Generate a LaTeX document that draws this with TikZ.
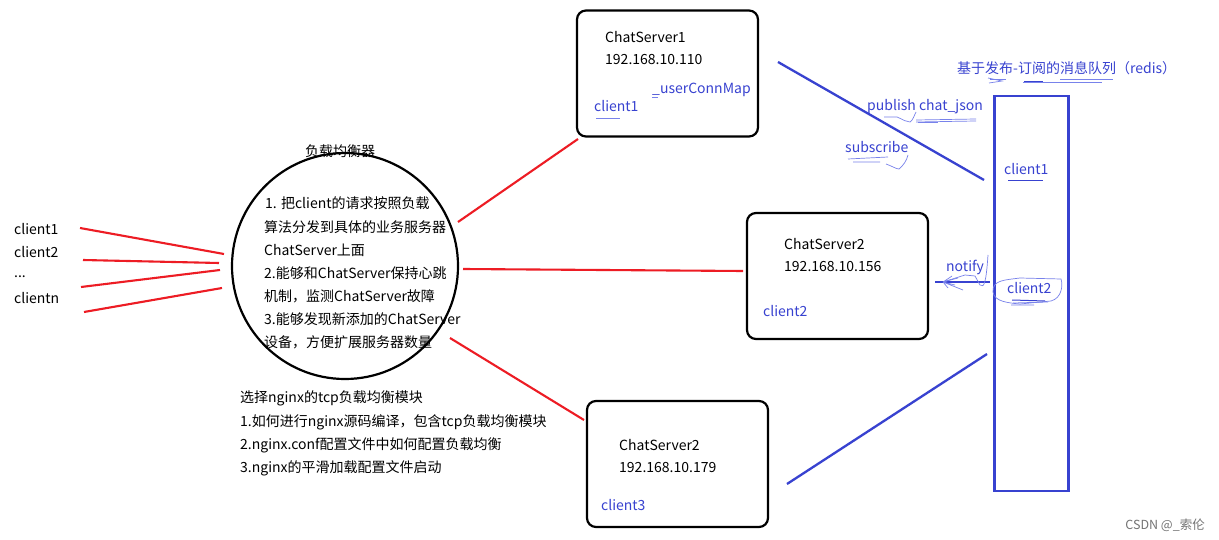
\documentclass[tikz,border=0pt]{standalone}
\usepackage{fontspec}
\setmainfont{Noto Sans CJK SC}
\definecolor{bl}{RGB}{56,66,208}
\definecolor{rd}{RGB}{237,28,36}
\definecolor{sk}{RGB}{120,130,235}
\tikzset{
 lbl/.style={anchor=west,inner sep=0pt,font=\fontsize{14}{16}\selectfont,text=black},
 blbl/.style={lbl,text=bl},
 srv/.style={draw=black,line width=2.2pt,rounded corners=9pt},
 redl/.style={draw=rd,line width=2.1pt},
 bluel/.style={draw=bl,line width=2.3pt},
 ink/.style={draw=sk,line width=.7pt},
 inkd/.style={draw=bl,line width=1pt}
}
\begin{document}
\begin{tikzpicture}[x=1pt,y=-1pt]
\useasboundingbox (0,0) rectangle (1219,540);
\fill[white] (0,0) rectangle (1219,540);
% servers
\node[srv,minimum width=181pt,minimum height=126pt,inner sep=0pt] (s1) at (667.5,73.5) {};
\node[srv,minimum width=181pt,minimum height=126pt,inner sep=0pt] (s2) at (837.5,276) {};
\node[srv,minimum width=181pt,minimum height=126pt,inner sep=0pt] (s3) at (677.5,464) {};
\node[draw=black,line width=2.2pt,circle,minimum size=226pt,inner sep=0pt] (lb) at (345,266) {};
\node[draw=bl,line width=2.4pt,minimum width=74pt,minimum height=395pt,inner sep=0pt] (mq) at (1031.5,293.5) {};
% client labels
\node[lbl] (c1) at (14,229) {client1};
\node[lbl] (c2) at (14,252) {client2};
\node[lbl] (c3) at (14,277) {...};
\node[lbl] (c4) at (14,298) {clientn};
\node[lbl,anchor=center] (lbt) at (340,151) {负载均衡器};
\node[lbl] (t1) at (265,203) {1. 把client的请求按照负载};
\node[lbl] (t2) at (264,227) {算法分发到具体的业务服务器};
\node[lbl] (t3) at (264,250) {ChatServer上面};
\node[lbl] (t4) at (264,273) {2.能够和ChatServer保持心跳};
\node[lbl] (t5) at (264,296) {机制，监测ChatServer故障};
\node[lbl] (t6) at (264,319) {3.能够发现新添加的ChatServer};
\node[lbl] (t7) at (264,342) {设备，方便扩展服务器数量};
\node[lbl] (n0) at (240,398) {选择nginx的tcp负载均衡模块};
\node[lbl] (n1) at (240,422) {1.如何进行nginx源码编译，包含tcp负载均衡模块};
\node[lbl] (n2) at (240,445) {2.nginx.conf配置文件中如何配置负载均衡};
\node[lbl] (n3) at (240,468) {3.nginx的平滑加载配置文件启动};
% server text
\node[lbl] (a1) at (605,37) {ChatServer1};
\node[lbl] (a2) at (605,60) {192.168.10.110};
\node[blbl] (a3) at (594,106) {client1};
\node[blbl] (a4) at (652,90) {\_userConnMap};
\node[lbl] (b1) at (784,244) {ChatServer2};
\node[lbl] (b2) at (784,267) {192.168.10.156};
\node[blbl] (b3) at (763,311) {client2};
\node[lbl] (d1) at (619,445) {ChatServer2};
\node[lbl] (d2) at (619,468) {192.168.10.179};
\node[blbl] (d3) at (601,505) {client3};
% queue text
\node[blbl] (q0) at (957,68) {基于发布-订阅的消息队列（redis）};
\node[blbl] (q1) at (867,107) {publish chat\_json};
\node[blbl] (q2) at (845,147) {subscribe};
\node[blbl] (q3) at (1004,169) {client1};
\node[blbl] (q4) at (1007,288) {client2};
\node[blbl] (q5) at (946,267) {notify};
% named connector ends
\coordinate (l1a) at (80,228); \coordinate (l1b) at (224,254);
\coordinate (l2a) at (83,260); \coordinate (l2b) at (219,263);
\coordinate (l3a) at (81,287); \coordinate (l3b) at (220,270);
\coordinate (l4a) at (84,312); \coordinate (l4b) at (222,288);
\coordinate (r1a) at (458,222); \coordinate (r1b) at (578,139);
\coordinate (r2a) at (463,269); \coordinate (r2b) at (743,271);
\coordinate (r3a) at (450,338); \coordinate (r3b) at (584,420);
\coordinate (u1a) at (778,62); \coordinate (u1b) at (984,180);
\coordinate (u3a) at (787,484); \coordinate (u3b) at (987,354);
\coordinate (u2a) at (935,282); \coordinate (u2b) at (990,282);
\draw[redl] (l1a)--(l1b);
\draw[redl] (l2a)--(l2b);
\draw[redl] (l3a)--(l3b);
\draw[redl] (l4a)--(l4b);
\draw[redl] (r1a)--(r1b);
\draw[redl] (r2a)--(r2b);
\draw[redl] (r3a)--(r3b);
\draw[bluel] (u1a)--(u1b);
\draw[bluel] (u3a)--(u3b);
\draw[bluel] (u2a)--(u2b);
% hand-written ink
\draw[ink] (596,118)--(620,118);
\draw[ink] (652,97)--(658,97);
\draw[ink] (990,79)--(1006,79) (1023,82)--(1102,82);
\draw[inkd] (1024,81.5)--(1043,81.5);
\draw[ink] (1060,79)--(1113,79);
\draw[ink] (988,78)--(1002,81)--(989,83);
\draw[ink] (884,117)--(897,117) .. controls (904,120) and (906,122) .. (910,122) .. controls (913,120) and (914,116) .. (916,112);
\draw[ink] (916,120)--(976,119) (916,122)--(976,121);
\draw[ink] (918,122)--(938,122);
\draw[ink] (848,159)--(888,157) (853,162)--(880,162);
\draw[ink] (886,164) .. controls (892,166) and (896,169) .. (899,169) .. controls (903,166) and (907,160) .. (908,155);
\draw[inkd] (1008,180.5)--(1043,180.5);
\draw[ink] (1020,278) .. controls (1005,280) and (992,280) .. (993,292) .. controls (994,302) and (1010,303) .. (1020,304) -- (1051,301) .. controls (1062,298) and (1063,285) .. (1061,279) -- (1020,278);
\draw[inkd] (1012,300)--(1045,301);
\draw[ink] (1013,303)--(1048,302) (1011,305)--(1034,305);
\draw[ink] (943,282) -- (965,275) -- (975,276) -- (980,285) .. controls (984,288) and (986,284) .. (988,255);
\draw[ink] (943,282)--(952,276) (943,282)--(958,278) (943,282)--(955,285) (943,282)--(963,290) (943,282)--(948,288);
\node[anchor=east,inner sep=0pt,font=\fontsize{12.5}{14}\selectfont,text=black!55] (wm) at (1205,525) {CSDN @\_索伦};
\end{tikzpicture}
\end{document}
